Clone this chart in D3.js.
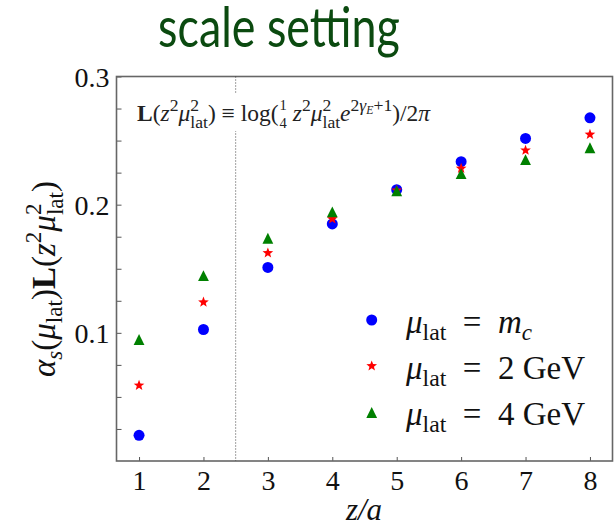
<!DOCTYPE html>
<html>
<head>
<meta charset="utf-8">
<script src="https://cdn.jsdelivr.net/npm/d3@7"></script>
<style>
  html, body { margin: 0; padding: 0; background: #fff; }
  svg { display: block; }
  text { white-space: pre; }
</style>
</head>
<body>
<svg id="chart" width="615" height="527"></svg>
<script>
// ---------- data ----------
const zValues = [1, 2, 3, 4, 5, 6, 7, 8];
const seriesMc   = [0.020, 0.1026, 0.151, 0.185, 0.2117, 0.2335, 0.2517, 0.2678];
const series2GeV = [0.059, 0.1239, 0.1623, 0.1888, 0.2112, 0.2283, 0.2424, 0.2548];
const series4GeV = [0.0948, 0.1447, 0.1738, 0.1943, 0.2107, 0.2242, 0.2351, 0.2444];
const xTicks = [1, 2, 3, 4, 5, 6, 7, 8];
const yTickLabels = [0.1, 0.2, 0.3];
const yMinorTicks = [0.025, 0.05, 0.075, 0.1, 0.125, 0.15, 0.175, 0.2, 0.225, 0.25, 0.275, 0.3];
const xDomain = [0.65, 8.35];
const yDomain = [0, 0.3];
const dividerZ = 2.5;
const titleText = "scale setting";

// ---------- layout ----------
const svg = d3.select("#chart");
const L = 116.5, R = 612.5, T = 76.5, B = 461;
const x = d3.scaleLinear().domain(xDomain).range([L, R]);
const y = d3.scaleLinear().domain(yDomain).range([B, T]);
const serif = "'Liberation Serif', 'DejaVu Serif', serif";

// math-ish text helper
function mathText(parent, px, py, fs, segs, opts = {}) {
  const t = parent.append("text")
    .attr("x", px).attr("y", py)
    .attr("font-family", serif)
    .attr("font-size", fs)
    .attr("fill", opts.fill || "#111");
  if (opts.anchor) t.attr("text-anchor", opts.anchor);
  if (opts.transform) t.attr("transform", opts.transform);
  let prevSh = 0, prevNode = null;
  segs.forEach(s => {
    const sc = s.s || 1, sh = s.sh || 0;
    const ts = t.append("tspan")
      .attr("font-size", fs * sc)
      .attr("font-style", s.i ? "italic" : "normal")
      .attr("font-weight", s.b ? "bold" : "normal")
      .attr("dy", -(sh - prevSh) * fs)
      .text(s.t);
    let dx = s.dx || 0;
    if (s.back && prevNode) dx -= prevNode.getComputedTextLength();
    if (dx) ts.attr("dx", dx);
    prevSh = sh; prevNode = ts.node();
  });
  return t;
}

// ---------- title ----------
const titleG = svg.append("g").attr("transform", "translate(279,47)");
const title = titleG.append("text")
  .attr("x", 0).attr("y", 0)
  .attr("text-anchor", "middle")
  .attr("font-family", "Lato, 'Open Sans', sans-serif")
  .attr("font-size", 56)
  .attr("fill", "#0b4a10")
  .text(titleText);
const tw = title.node().getComputedTextLength();
title.attr("transform", `scale(${242 / tw},1)`);

// ---------- axes ----------
const xAxis = d3.axisBottom(x).tickValues(xTicks).tickSize(-4).tickPadding(9).tickFormat(d3.format("d"));
const gx = svg.append("g").attr("transform", `translate(0,${B})`).call(xAxis);
gx.attr("font-family", serif);
gx.select(".domain").remove();
gx.selectAll("line").attr("stroke", "#555").attr("stroke-width", 1);
gx.selectAll("text").attr("font-family", serif).attr("font-size", 28).attr("fill", "#111").attr("dy", "0.71em");

const yAxis = d3.axisLeft(y).tickValues(yMinorTicks).tickSize(-5).tickPadding(7)
  .tickFormat(d => yTickLabels.some(v => Math.abs(v - d) < 1e-9) ? d3.format(".1f")(d) : "");
const gy = svg.append("g").attr("transform", `translate(${L},0)`).call(yAxis);
gy.attr("font-family", serif);
gy.select(".domain").remove();
gy.selectAll("line").attr("stroke", "#555").attr("stroke-width", 1);
gy.selectAll("text").attr("font-family", serif).attr("font-size", 28).attr("fill", "#111").attr("dy", "0.35em");

// frame
svg.append("rect")
  .attr("x", L).attr("y", T).attr("width", R - L).attr("height", B - T)
  .attr("fill", "none").attr("stroke", "#666").attr("stroke-width", 1.6);

// dotted divider
svg.append("line")
  .attr("x1", x(dividerZ)).attr("x2", x(dividerZ))
  .attr("y1", T).attr("y2", B)
  .attr("stroke", "#444").attr("stroke-width", 1).attr("stroke-dasharray", "1,2");

// annotation box + text
svg.append("rect").attr("x", 132).attr("y", 94).attr("width", 316).attr("height", 37).attr("fill", "#fff");
const sup = 0.42, sub = -0.28, ss = 0.75;
mathText(svg, 137, 121, 23.5, [
  {t: "L", b: true}, {t: "("}, {t: "z", i: true}, {t: "2", s: ss, sh: sup},
  {t: "μ", i: true}, {t: "2", s: ss, sh: sup}, {t: "lat", s: ss, sh: sub, back: true},
  {t: ") ≡ log("}, {t: "1", s: 0.62, sh: 0.45, dx: 1}, {t: "4", s: 0.62, sh: -0.3, back: true},
  {t: " z", i: true}, {t: "2", s: ss, sh: sup},
  {t: "μ", i: true}, {t: "2", s: ss, sh: sup}, {t: "lat", s: ss, sh: sub, back: true},
  {t: "e", i: true}, {t: "2", s: ss, sh: sup}, {t: "γ", i: true, s: ss, sh: sup},
  {t: "E", i: true, s: 0.5, sh: 0.3}, {t: "+1", s: ss, sh: sup},
  {t: ")/2"}, {t: "π", i: true}
], {fill: "#222"});

// ---------- markers ----------
function starPath(r) {
  const ri = r * 0.42; let p = "";
  for (let k = 0; k < 10; k++) {
    const a = -Math.PI / 2 + k * Math.PI / 5, rr = k % 2 ? ri : r;
    p += (k ? "L" : "M") + (rr * Math.cos(a)).toFixed(2) + "," + (rr * Math.sin(a)).toFixed(2);
  }
  return p + "Z";
}
function triPath(h) { return `M0,${-h}L${h},${h}L${-h},${h}Z`; }

const series = [
  {vals: seriesMc, color: "#0000ff", shape: "circle"},
  {vals: series2GeV, color: "#ff0000", shape: "star"},
  {vals: series4GeV, color: "#008000", shape: "tri"}
];
function drawMarker(g, shape, color) {
  if (shape === "circle") g.append("circle").attr("r", 5.5).attr("fill", color);
  else if (shape === "star") g.append("path").attr("d", starPath(5.6)).attr("fill", color);
  else g.append("path").attr("d", triPath(5.4)).attr("fill", color);
}
series.forEach(s => {
  svg.append("g").selectAll("g").data(zValues.map((z, i) => [z, s.vals[i]])).join("g")
    .attr("transform", d => `translate(${x(d[0])},${y(d[1])})`)
    .each(function() { drawMarker(d3.select(this), s.shape, s.color); });
});

// ---------- legend ----------
const legendRows = [
  {shape: "circle", color: "#0000ff", my: 320, by: 333, rest: [{t: "  =  "}, {t: "m", i: true}, {t: "c", i: true, s: 0.7, sh: -0.22}]},
  {shape: "star", color: "#ff0000", my: 366, by: 378.5, rest: [{t: "  =  2 GeV"}]},
  {shape: "tri", color: "#008000", my: 412.5, by: 424.5, rest: [{t: "  =  4 GeV"}]}
];
legendRows.forEach(r => {
  const g = svg.append("g").attr("transform", `translate(371.7,${r.my})`);
  drawMarker(g, r.shape, r.color);
  mathText(svg, 406, r.by, 33, [{t: "μ", i: true}, {t: "lat", s: 0.72, sh: -0.22}, ...r.rest.map(o => Object.assign({sh: o.sh || 0}, o))]);
});

// ---------- axis titles ----------
mathText(svg, 364, 520, 31, [{t: "z/a", i: true}], {anchor: "middle"});
mathText(svg, 0, 0, 33, [
  {t: "α", i: true}, {t: "s", i: true, s: 0.7, sh: -0.2}, {t: "("}, {t: "μ", i: true},
  {t: "lat", s: 0.7, sh: -0.2}, {t: ")"}, {t: "L", b: true}, {t: "("}, {t: "z", i: true},
  {t: "2", s: 0.7, sh: 0.42}, {t: "μ", i: true}, {t: "2", s: 0.7, sh: 0.42},
  {t: "lat", s: 0.7, sh: -0.25, back: true}, {t: ")"}
], {anchor: "middle", transform: "translate(55,279) rotate(-90)"});
</script>
</body>
</html>
